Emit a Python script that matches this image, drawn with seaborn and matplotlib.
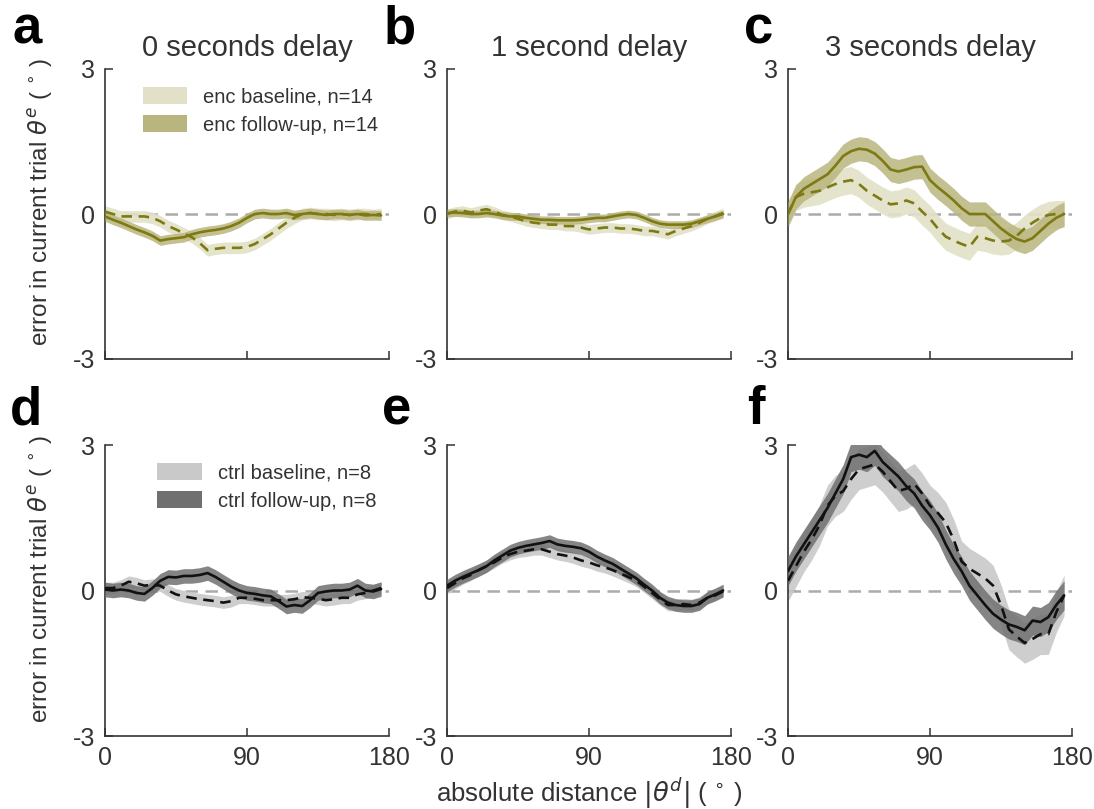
import numpy as np
import matplotlib
matplotlib.use('Agg')
import matplotlib.pyplot as plt
from matplotlib.patches import Patch
import seaborn as sns

# absolute distance between trials (deg)
dist = list(range(0, 180, 5))

# enc group, mean error in current trial (deg)
enc_base_0s = [0.05, 0.0, -0.05, -0.05, -0.05, -0.05, -0.08, -0.15, -0.25, -0.32, -0.4, -0.48,
               -0.6, -0.75, -0.72, -0.7, -0.7, -0.7, -0.68, -0.62, -0.52, -0.42, -0.3, -0.18,
               -0.08, 0.0, 0.02, 0.0, 0.0, -0.02, 0.0, -0.02, 0.0, 0.0, -0.02, 0.0]
enc_follow_0s = [-0.05, -0.12, -0.18, -0.25, -0.32, -0.38, -0.45, -0.55, -0.52, -0.5, -0.48, -0.42,
                 -0.38, -0.35, -0.33, -0.3, -0.25, -0.18, -0.08, 0.0, 0.02, 0.0, 0.0, 0.02,
                 -0.02, 0.0, 0.02, 0.0, -0.02, 0.0, 0.0, -0.02, 0.0, -0.03, -0.02, -0.03]
enc_base_1s = [0.0, 0.05, 0.07, 0.03, 0.07, 0.1, 0.05, -0.02, -0.05, -0.1, -0.15, -0.18,
               -0.2, -0.22, -0.22, -0.25, -0.25, -0.28, -0.32, -0.3, -0.28, -0.28, -0.3, -0.3,
               -0.32, -0.35, -0.35, -0.38, -0.42, -0.35, -0.3, -0.25, -0.18, -0.1, -0.05, 0.02]
enc_follow_1s = [0.02, 0.03, 0.02, 0.0, 0.0, 0.02, 0.0, -0.03, -0.05, -0.05, -0.08, -0.1,
                 -0.12, -0.12, -0.13, -0.13, -0.13, -0.12, -0.1, -0.08, -0.08, -0.05, -0.02, 0.0,
                 -0.02, -0.08, -0.15, -0.2, -0.22, -0.22, -0.22, -0.2, -0.15, -0.1, -0.05, 0.0]
enc_base_3s = [0.0, 0.35, 0.42, 0.45, 0.48, 0.55, 0.62, 0.67, 0.7, 0.62, 0.48, 0.38,
               0.28, 0.2, 0.22, 0.28, 0.22, 0.05, -0.1, -0.3, -0.47, -0.55, -0.62, -0.68,
               -0.47, -0.5, -0.55, -0.57, -0.55, -0.45, -0.3, -0.18, -0.08, -0.02, 0.0, 0.0]
enc_follow_3s = [0.0, 0.35, 0.52, 0.62, 0.72, 0.82, 1.0, 1.2, 1.3, 1.35, 1.33, 1.25,
                 1.1, 0.92, 0.88, 0.92, 0.97, 0.98, 0.7, 0.55, 0.42, 0.28, 0.12, 0.0,
                 0.0, 0.0, -0.15, -0.3, -0.42, -0.52, -0.57, -0.5, -0.35, -0.2, -0.08, 0.0]

# ctrl group
ctrl_base_0s = [0.05, 0.05, 0.1, 0.18, 0.15, 0.1, 0.12, 0.1, 0.0, -0.08, -0.12, -0.15,
                -0.18, -0.2, -0.22, -0.25, -0.22, -0.15, -0.15, -0.17, -0.2, -0.2, -0.2, -0.2,
                -0.18, -0.14, -0.15, -0.17, -0.2, -0.18, -0.15, -0.15, -0.08, -0.05, 0.0, 0.05]
ctrl_follow_0s = [0.02, 0.0, 0.02, 0.0, -0.05, -0.07, 0.05, 0.2, 0.28, 0.27, 0.3, 0.3,
                  0.32, 0.36, 0.28, 0.18, 0.08, 0.0, -0.05, -0.07, -0.1, -0.12, -0.22, -0.33,
                  -0.3, -0.32, -0.2, -0.05, -0.02, 0.0, 0.0, 0.02, 0.1, 0.0, -0.02, 0.03]
ctrl_base_1s = [0.05, 0.15, 0.25, 0.32, 0.42, 0.5, 0.58, 0.68, 0.75, 0.8, 0.82, 0.85,
                0.85, 0.8, 0.75, 0.72, 0.68, 0.62, 0.58, 0.52, 0.48, 0.42, 0.35, 0.28,
                0.2, 0.08, -0.05, -0.18, -0.3, -0.3, -0.28, -0.3, -0.25, -0.15, -0.1, -0.02]
ctrl_follow_1s = [0.1, 0.2, 0.28, 0.35, 0.42, 0.5, 0.62, 0.72, 0.82, 0.88, 0.92, 0.95,
                  0.98, 1.02, 0.95, 0.92, 0.9, 0.87, 0.8, 0.7, 0.62, 0.55, 0.45, 0.35,
                  0.25, 0.12, 0.0, -0.15, -0.25, -0.3, -0.32, -0.32, -0.28, -0.15, -0.08, 0.0]
ctrl_base_3s = [0.2, 0.5, 0.8, 1.05, 1.35, 1.75, 1.95, 2.05, 2.3, 2.5, 2.55, 2.6,
                2.45, 2.25, 2.05, 2.1, 2.2, 2.0, 1.75, 1.6, 1.4, 1.05, 0.6, 0.45,
                0.35, 0.25, 0.1, -0.3, -0.8, -0.95, -1.08, -1.0, -0.9, -0.9, -0.45, -0.1]
ctrl_follow_3s = [0.4, 0.7, 0.95, 1.2, 1.45, 1.7, 2.0, 2.3, 2.75, 2.8, 2.75, 2.88,
                  2.65, 2.5, 2.35, 2.15, 2.0, 1.75, 1.55, 1.3, 0.95, 0.65, 0.4, 0.1,
                  -0.1, -0.3, -0.48, -0.6, -0.7, -0.75, -0.82, -0.62, -0.65, -0.55, -0.3, -0.1]

# half width of the shaded error band, per delay (0s, 1s, 3s)
enc_base_err = [0.12, 0.1, 0.28]
enc_follow_err = [0.1, 0.08, 0.25]
ctrl_base_err = [0.12, 0.12, 0.42]
ctrl_follow_err = [0.15, 0.13, 0.3]

titles = ['0 seconds delay', '1 second delay', '3 seconds delay']
letters = ['a', 'b', 'c', 'd', 'e', 'f']

enc_line = '#7d7a14'
enc_base_band = '#e2e1c8'
enc_follow_band = '#b9b57e'
ctrl_line = '#111111'
ctrl_base_band = '#c9c9c9'
ctrl_follow_band = '#707070'

sns.set_style('ticks')
plt.rcParams['font.family'] = ['Liberation Sans', 'DejaVu Sans']
plt.rcParams['mathtext.fontset'] = 'dejavusans'

W, H = 1094, 809
fig = plt.figure(figsize=(W / 100, H / 100), dpi=100)

lefts = [105, 447, 788]
rows = [(69, 359), (445, 736)]
ax_w = 284

rows_data = [
    ([enc_base_0s, enc_base_1s, enc_base_3s], [enc_follow_0s, enc_follow_1s, enc_follow_3s],
     enc_base_err, enc_follow_err, enc_line, enc_base_band, enc_follow_band),
    ([ctrl_base_0s, ctrl_base_1s, ctrl_base_3s], [ctrl_follow_0s, ctrl_follow_1s, ctrl_follow_3s],
     ctrl_base_err, ctrl_follow_err, ctrl_line, ctrl_base_band, ctrl_follow_band),
]

axes = []
for r, (top, bot) in enumerate(rows):
    base_l, follow_l, base_e, follow_e, lc, bband, fband = rows_data[r]
    for c in range(3):
        ax = fig.add_axes([lefts[c] / W, 1 - bot / H, ax_w / W, (bot - top) / H])
        axes.append(ax)
        x = np.array(dist)
        b = np.array(base_l[c])
        f = np.array(follow_l[c])

        ax.plot([0, 180], [0, 0], color='#ababab', lw=1.8, ls=(0, (5, 3)), zorder=1)
        ax.fill_between(x, b - base_e[c], b + base_e[c], color=bband, lw=0, alpha=0.9, zorder=2)
        ax.fill_between(x, f - follow_e[c], f + follow_e[c], color=fband, lw=0, alpha=0.85, zorder=3)
        sns.lineplot(x=x, y=b, ax=ax, color=lc, lw=1.9, linestyle=(0, (4, 2.5)), zorder=4)
        sns.lineplot(x=x, y=f, ax=ax, color=lc, lw=1.9, zorder=5)

        ax.set_xlim(0, 180)
        ax.set_ylim(-3, 3)
        ax.set_xticks([0, 90, 180])
        ax.set_yticks([-3, 0, 3])
        ax.set_yticklabels(['-3', '0', '3'])
        ax.tick_params(direction='in', length=6, width=1.1, colors='#333333',
                       labelsize=18, labelcolor='#333333', pad=7)
        if r == 0:
            ax.set_xticklabels([])
            ax.set_title(titles[c], fontsize=21, color='#333333', pad=9)
        sns.despine(ax=ax)
        for s in ['left', 'bottom']:
            ax.spines[s].set_color('#333333')
            ax.spines[s].set_linewidth(1.2)
        ax.set_xlabel('')
        ax.set_ylabel('')

ylab = r'error in current trial $\theta^e$ ( $^{\circ}$ )'
for i in (0, 3):
    axes[i].set_ylabel(ylab, fontsize=17.5, color='#333333')
    axes[i].yaxis.set_label_coords(-0.175, 0.54)
axes[4].set_xlabel(r'absolute distance $|\theta^d|$ ( $^{\circ}$ )', fontsize=18.5,
                   color='#333333', labelpad=4)

enc_handles = [Patch(facecolor=enc_base_band, edgecolor='none', label='enc baseline, n=14'),
               Patch(facecolor=enc_follow_band, edgecolor='none', label='enc follow-up, n=14')]
axes[0].legend(handles=enc_handles, loc='upper left', bbox_to_anchor=(0.07, 1.0),
               frameon=False, fontsize=14.5, handlelength=2.2, handleheight=0.9,
               labelspacing=0.45, handletextpad=0.8, labelcolor='#333333')
ctrl_handles = [Patch(facecolor=ctrl_base_band, edgecolor='none', label='ctrl baseline, n=8'),
                Patch(facecolor=ctrl_follow_band, edgecolor='none', label='ctrl follow-up, n=8')]
axes[3].legend(handles=ctrl_handles, loc='upper left', bbox_to_anchor=(0.12, 1.0),
               frameon=False, fontsize=14.5, handlelength=2.2, handleheight=0.9,
               labelspacing=0.45, handletextpad=0.8, labelcolor='#333333')

letter_x = [12, 384, 744, 10, 382, 747]
letter_y = [44, 44, 44, 424, 424, 424]
for lt, lx, ly in zip(letters, letter_x, letter_y):
    fig.text(lx / W, 1 - ly / H, lt, fontsize=38, fontweight='bold', color='black',
             va='baseline', ha='left')

fig.savefig('out.png', dpi=100)
